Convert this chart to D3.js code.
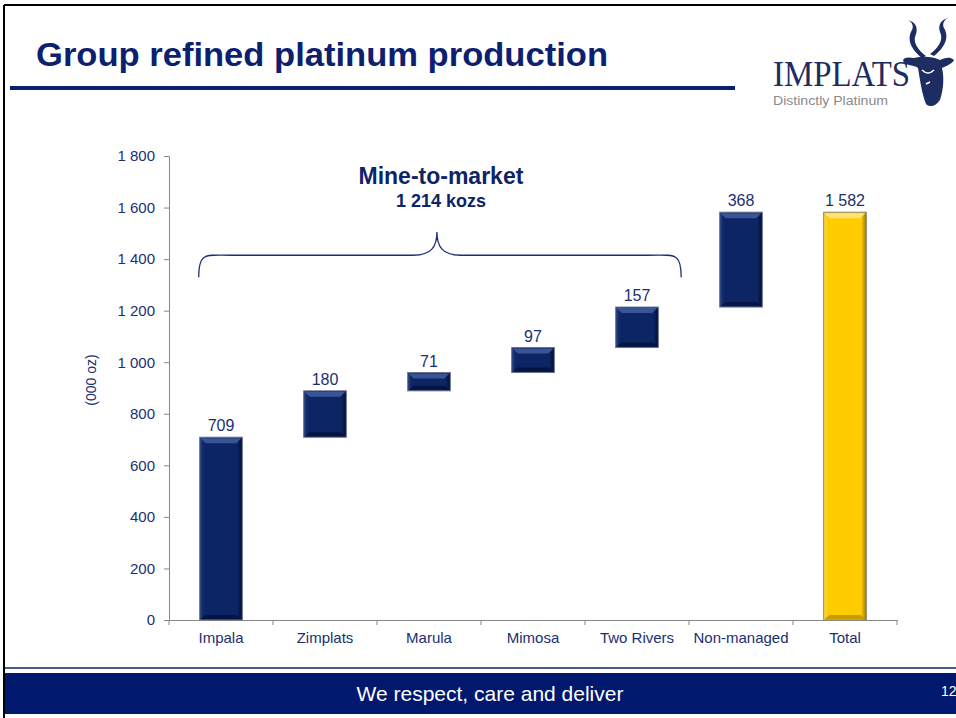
<!DOCTYPE html>
<html>
<head>
<meta charset="utf-8">
<script src="https://cdn.jsdelivr.net/npm/d3@7"></script>
<style>
  body { margin: 0; background: #fff; }
</style>
</head>
<body>
<svg id="slide" width="956" height="718" font-family="'Liberation Sans', Arial, sans-serif"></svg>
<script>
// chart data
const categories = ["Impala", "Zimplats", "Marula", "Mimosa", "Two Rivers", "Non-managed", "Total"];
const values = [709, 180, 71, 97, 157, 368, 1582];
const isTotal = [false, false, false, false, false, false, true];
const yTicks = [0, 200, 400, 600, 800, 1000, 1200, 1400, 1600, 1800];
const braceFrom = "Impala", braceTo = "Two Rivers";
const braceLabel = "Mine-to-market", braceValue = "1 214 kozs";

const textNavy = "#1b2f72";

const locale = d3.formatLocale({decimal: ".", thousands: " ", grouping: [3], currency: ["", ""]});
const fmt = locale.format(",d");

// waterfall start/end
let running = 0;
const sample = categories.map((c, i) => {
  let start, end;
  if (isTotal[i]) { start = 0; end = values[i]; }
  else { start = running; end = running + values[i]; running = end; }
  return {name: c, value: values[i], start: start, end: end, total: isTotal[i]};
});

const svg = d3.select('#slide');

// slide frame
svg.append('line').attr('x1', 4).attr('y1', 5).attr('x2', 4).attr('y2', 718)
  .attr('stroke', '#000').attr('stroke-width', 2);
svg.append('line').attr('x1', 4).attr('y1', 5).attr('x2', 956).attr('y2', 5)
  .attr('stroke', '#000').attr('stroke-width', 2);

// title
svg.append('text')
  .attr('x', 36).attr('y', 66)
  .attr('font-size', 34).attr('font-weight', 'bold')
  .attr('fill', '#0d1f70')
  .attr('textLength', 572).attr('lengthAdjust', 'spacingAndGlyphs')
  .text('Group refined platinum production');
svg.append('rect').attr('x', 10).attr('y', 86).attr('width', 725).attr('height', 4).attr('fill', '#0d1f70');

// logo
const logo = svg.append('g');
logo.append('text').attr('x', 773).attr('y', 86)
  .attr('font-family', '"Liberation Serif", "DejaVu Serif", serif').attr('font-size', 35)
  .attr('fill', '#1d2d62').attr('textLength', 137).attr('lengthAdjust', 'spacingAndGlyphs')
  .text('IMPLATS');
logo.append('text').attr('x', 773).attr('y', 105)
  .attr('font-size', 12).attr('fill', '#8a8a8a')
  .attr('textLength', 115).attr('lengthAdjust', 'spacingAndGlyphs')
  .text('Distinctly Platinum');
// antelope horns
logo.append('path')
  .attr('d', 'M922,58 C912,50 906,40 912,30 C914,26 912,22 908,20 C916,22 918,28 916,34 C912,42 918,50 926,56 Z')
  .attr('fill', '#1d2d62');
logo.append('path')
  .attr('d', 'M934,56 C944,48 950,38 944,28 C942,24 944,20 948,18 C940,20 938,26 940,32 C944,40 938,48 930,54 Z')
  .attr('fill', '#1d2d62');
// antelope head
logo.append('path')
  .attr('d', 'M914,58 C904,56 900,60 906,64 C912,66 916,66 918,68 C920,80 922,94 926,104 C930,108 936,106 940,100 C944,88 944,76 942,68 C946,66 952,64 954,60 C950,56 944,58 940,60 C932,56 922,56 914,58 Z')
  .attr('fill', '#1d2d62');
logo.append('path')
  .attr('d', 'M922,70 C926,74 930,74 934,70 M926,84 L930,82 M918,92 L906,102')
  .attr('fill', 'none').attr('stroke', '#fff').attr('stroke-width', 1.5);

// footer
svg.append('line').attr('x1', 5).attr('y1', 668).attr('x2', 956).attr('y2', 668)
  .attr('stroke', '#0d1f70').attr('stroke-width', 1.5);
svg.append('rect').attr('x', 5).attr('y', 673).attr('width', 951).attr('height', 41).attr('fill', '#00186e');
svg.append('text').attr('x', 490).attr('y', 701).attr('text-anchor', 'middle')
  .attr('font-size', 21).attr('fill', '#fff').text('We respect, care and deliver');
svg.append('text').attr('x', 941).attr('y', 696)
  .attr('font-size', 14).attr('fill', '#fff').text('12');

// chart area
const mLeft = 169, mTop = 156, width = 728, height = 464;
const chart = svg.append('g').attr('transform', `translate(${mLeft}, ${mTop})`);

const xScale = d3.scaleBand()
  .range([0, width])
  .domain(categories)
  .paddingInner(0.59)
  .paddingOuter(0.295);

const yScale = d3.scaleLinear()
  .range([height, 0])
  .domain([0, 1800]);

// gradients for bevelled bars
const defs = svg.append('defs');
function bevel(id, light, mid, dark) {
  const g = defs.append('linearGradient').attr('id', id).attr('x1', 0).attr('x2', 1).attr('y1', 0).attr('y2', 0);
  g.append('stop').attr('offset', '0%').attr('stop-color', light);
  g.append('stop').attr('offset', '10%').attr('stop-color', mid);
  g.append('stop').attr('offset', '88%').attr('stop-color', mid);
  g.append('stop').attr('offset', '100%').attr('stop-color', dark);
}
bevel('gNavy', '#2a3f80', '#0b2565', '#020c2a');
bevel('gGold', '#ffd84a', '#ffcc00', '#9a7400');

// x axis
const xAxis = chart.append('g')
  .attr('transform', `translate(0, ${height})`)
  .call(d3.axisBottom(xScale).tickSize(0).tickPadding(12));
xAxis.select('.domain').attr('stroke', '#888');
xAxis.selectAll('text').attr('font-size', 15).attr('fill', textNavy);
// category boundary ticks
xAxis.selectAll('.bound')
  .data(d3.range(categories.length + 1))
  .enter().append('line')
  .attr('class', 'bound')
  .attr('x1', i => i * xScale.step()).attr('x2', i => i * xScale.step())
  .attr('y1', 0).attr('y2', 5)
  .attr('stroke', '#888');

// y axis
const yAxis = chart.append('g')
  .call(d3.axisLeft(yScale).tickValues(yTicks).tickFormat(fmt).tickSize(5).tickSizeOuter(0).tickPadding(9));
yAxis.select('.domain').attr('stroke', '#888');
yAxis.selectAll('line').attr('stroke', '#888');
yAxis.selectAll('text').attr('font-size', 15).attr('fill', textNavy);

svg.append('text')
  .attr('transform', `translate(96, ${mTop + height / 2 - 8}) rotate(-90)`)
  .attr('text-anchor', 'middle')
  .attr('font-size', 14).attr('fill', textNavy)
  .text('(000 oz)');

// bars
const barGroups = chart.selectAll('.bar')
  .data(sample)
  .enter()
  .append('g')
  .attr('class', 'bar');

barGroups.append('rect')
  .attr('x', d => xScale(d.name))
  .attr('y', d => yScale(d.end))
  .attr('width', xScale.bandwidth())
  .attr('height', d => yScale(d.start) - yScale(d.end))
  .attr('fill', d => d.total ? 'url(#gGold)' : 'url(#gNavy)')
  .attr('stroke', d => d.total ? '#8a8a6a' : '#6a7390')
  .attr('stroke-width', 1);

// top highlight strip
barGroups.append('path')
  .attr('d', d => {
    const x0 = xScale(d.name) + 1, x1 = x0 + xScale.bandwidth() - 2, y0 = yScale(d.end) + 1;
    return `M${x0},${y0} L${x1},${y0} L${x1 - 5},${y0 + 5} L${x0 + 5},${y0 + 5} Z`;
  })
  .attr('fill', d => d.total ? '#ffe37a' : '#3a5596');

// bottom shadow strip
barGroups.append('path')
  .attr('d', d => {
    const x0 = xScale(d.name) + 1, x1 = x0 + xScale.bandwidth() - 2, y0 = yScale(d.start) - 1;
    return `M${x0},${y0} L${x1},${y0} L${x1 - 5},${y0 - 4} L${x0 + 5},${y0 - 4} Z`;
  })
  .attr('fill', d => d.total ? '#c99a00' : '#06153f');

barGroups.append('text')
  .attr('x', d => xScale(d.name) + xScale.bandwidth() / 2)
  .attr('y', d => yScale(d.end) - 6)
  .attr('text-anchor', 'middle')
  .attr('font-size', 16).attr('fill', textNavy)
  .text(d => fmt(d.value));

// brace over mine-to-market
const bx0 = xScale(braceFrom) - 1;
const bx1 = xScale(braceTo) + xScale.bandwidth() + 0.22 * xScale.step();
const bmid = (bx0 + bx1) / 2 - 3;
const yEnd = yScale(1330), yBar = yScale(1415), yTip = yScale(1505);
const r = 22;
chart.append('path')
  .attr('d', `M${bx0},${yEnd} C${bx0},${yBar - 4} ${bx0 + 8},${yBar} ${bx0 + r + 10},${yBar}
    L${bmid - r - 2},${yBar} C${bmid - 6},${yBar} ${bmid},${yBar - 8} ${bmid},${yTip}
    C${bmid},${yBar - 8} ${bmid + 6},${yBar} ${bmid + r + 2},${yBar}
    L${bx1 - r - 10},${yBar} C${bx1 - 8},${yBar} ${bx1},${yBar - 4} ${bx1},${yEnd}`)
  .attr('fill', 'none').attr('stroke', '#1d2d7a').attr('stroke-width', 1.3);

chart.append('text')
  .attr('x', bmid + 4).attr('y', 184 - mTop)
  .attr('text-anchor', 'middle')
  .attr('font-size', 23).attr('font-weight', 'bold').attr('fill', '#0d2466')
  .text(braceLabel);
chart.append('text')
  .attr('x', bmid + 4).attr('y', 207 - mTop)
  .attr('text-anchor', 'middle')
  .attr('font-size', 18).attr('font-weight', 'bold').attr('fill', '#0d2466')
  .text(braceValue);
</script>
</body>
</html>
